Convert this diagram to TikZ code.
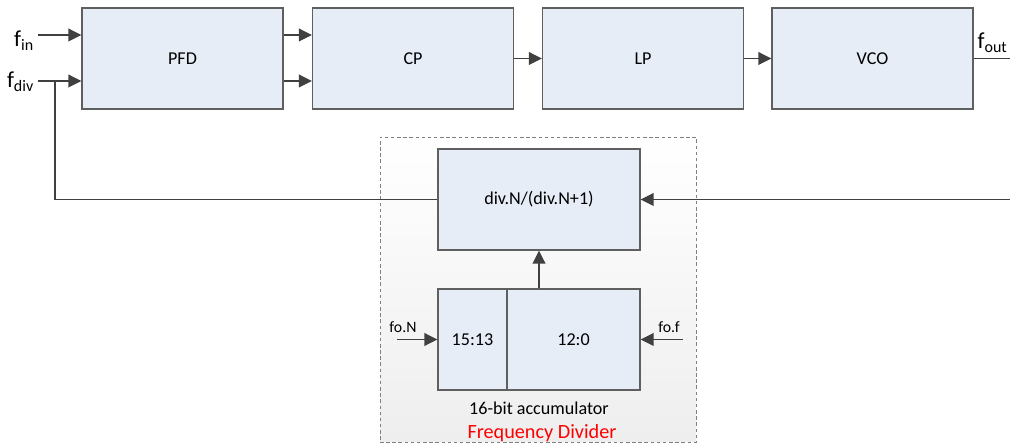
\documentclass[tikz,border=0pt]{standalone}
\usepackage{fontspec}
\setmainfont{Carlito}
\usetikzlibrary{arrows.meta,positioning,calc}
\definecolor{blkfill}{HTML}{E6EDF7}
\definecolor{blkline}{HTML}{5F5F5F}
\definecolor{wire}{HTML}{404040}
\definecolor{grpshade}{HTML}{EEEEEE}
\definecolor{grpline}{HTML}{808080}
\tikzset{
  >={Triangle[length=2.6mm,width=2.5mm]},
  % bloecke
  blk/.style={rectangle,draw=blkline,fill=blkfill,line width=0.6pt,inner sep=0pt,
              minimum width=4.02cm,minimum height=2.02cm,font=\fontsize{10.3}{12}\selectfont},
  sig/.style={->,draw=wire,line width=1.1pt},
  wr/.style={draw=wire,line width=1.1pt},
  flbl/.style={font=\fontsize{13}{15}\selectfont,inner sep=0pt},
  sm/.style={font=\fontsize{9}{11}\selectfont,inner sep=1pt},
  txt/.style={font=\fontsize{10.3}{12}\selectfont,inner sep=1pt},
  grp/.style={rectangle,draw=grpline,dash pattern=on 2pt off 1.5pt,line width=0.5pt,
              top color=white,bottom color=grpshade,inner sep=0pt},
}
\begin{document}
\begin{tikzpicture}
\useasboundingbox (0,0) rectangle (20.2,-8.9);
  % frequency divider
  \node[grp,minimum width=6.32cm,minimum height=6.1cm] (grp) at (10.76,-5.79) {};
  % loop
  \node[blk] (pfd) at (3.65,-1.17) {PFD};
  \node[blk] (cp) at (8.26,-1.17) {CP};
  \node[blk] (lp) at (12.86,-1.17) {LP};
  \node[blk] (vco) at (17.45,-1.17) {VCO};
  \node[blk,minimum width=4.04cm] (div) at (10.78,-3.99) {div.N/(div.N+1)};
  \node[blk,minimum width=1.38cm] (acca) at (9.45,-6.79) {15:13};
  \node[blk,minimum width=2.66cm] (accb) at (11.47,-6.79) {12:0};
  \coordinate (fin) at (0.76,-0.7);
  \coordinate (fdivin) at (0.76,-1.62);
  \coordinate (tap) at (1.1,-1.62);
  \coordinate (out) at (20.2,-1.18);
  \coordinate (fb) at (20.2,-3.99);
  \coordinate (foN) at (7.94,-6.79);
  \coordinate (fof) at (13.66,-6.79);
  \node[flbl,anchor=base east] (finl) at (0.69,-0.94) {f\textsubscript{in}};
  \node[flbl,anchor=base east] (fdivl) at (0.69,-1.76) {f\textsubscript{div}};
  \node[flbl,anchor=base east] (foutl) at (20.16,-0.98) {f\textsubscript{out}};
  \draw[sig] (fin) -- (fin -| pfd.west);
  \draw[sig] (fdivin) -- (fdivin -| pfd.west);
  \draw[sig] ([yshift=0.47cm]pfd.east) -- ([yshift=0.47cm]cp.west);
  \draw[sig] ([yshift=-0.45cm]pfd.east) -- ([yshift=-0.45cm]cp.west);
  \draw[sig] (cp) -- (lp);
  \draw[sig] (lp) -- (vco);
  \draw[wr] (vco.east) -- (vco.east -| out);
  \draw[sig] (fb) -- (div.east);
  \draw[wr] (div.west) -| (tap);
  \draw[sig] (div.south |- accb.north) -- (div.south);
  \draw[sig] (foN) -- (acca.west);
  \draw[sig] (fof) -- (accb.east);
  \node[sm] (foNl) at (8.06,-6.54) {fo.N};
  \node[sm] (fofl) at (13.38,-6.54) {fo.f};
  \node[txt] (accl) at (10.78,-8.16) {16-bit accumulator};
  \node[txt,font=\fontsize{11.5}{13}\selectfont,text=red] (grpl) at (10.84,-8.66) {Frequency Divider};
\end{tikzpicture}
\end{document}
